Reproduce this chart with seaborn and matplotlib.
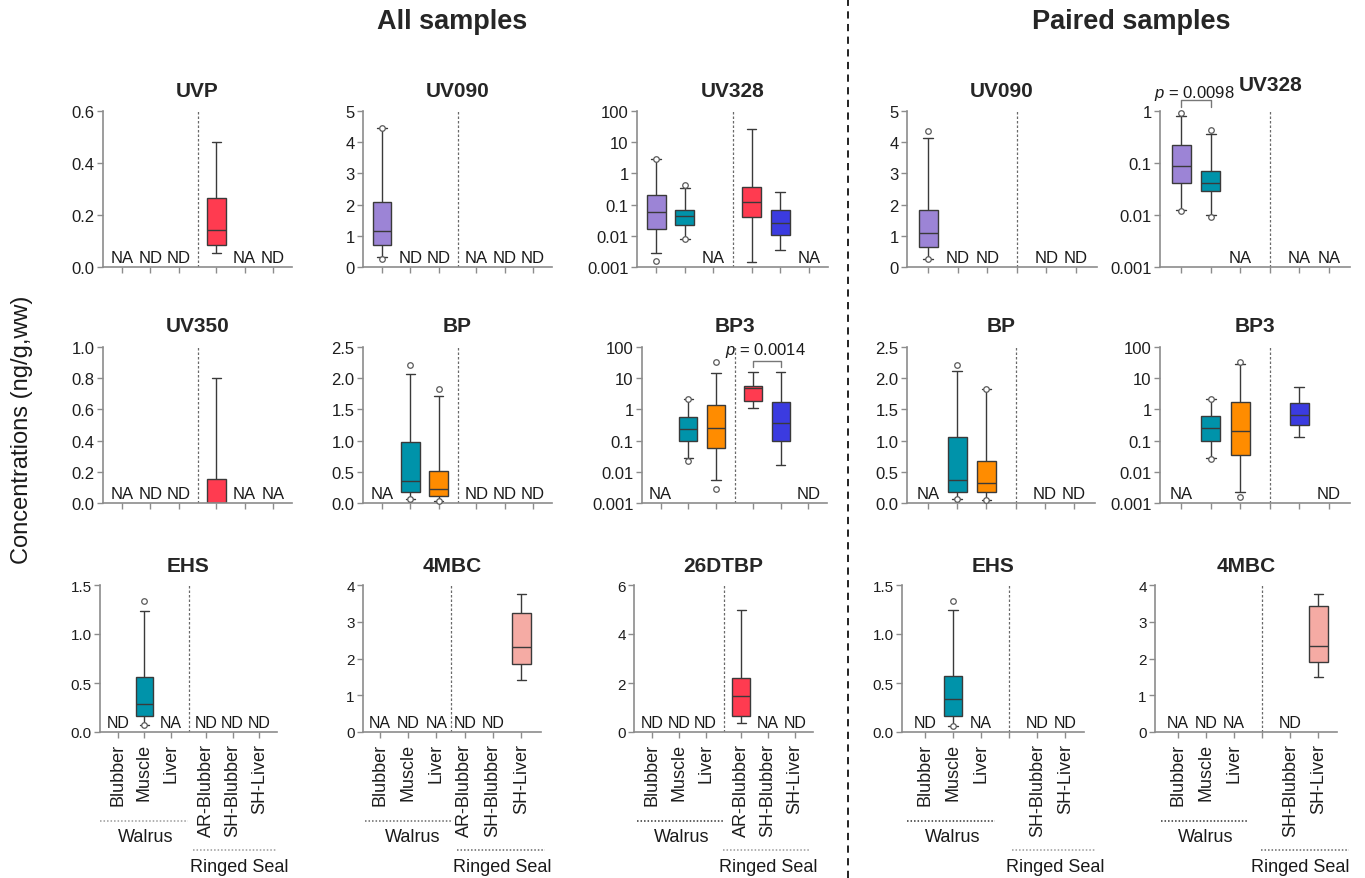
import numpy as np
import pandas as pd
import matplotlib
matplotlib.use("Agg")
import matplotlib.pyplot as plt
import seaborn as sns
from matplotlib.ticker import NullLocator

# ------------------------------------------------------------------ data
# box statistics: [min, q1, median, q3, max]  (whiskers = min..max)
TISSUES = ["Blubber", "Muscle", "Liver", "AR-Blubber", "SH-Blubber", "SH-Liver"]
PAIRED_TISSUES = ["Blubber", "Muscle", "Liver", "", "SH-Blubber", "SH-Liver"]

# --- All samples
UVP_AR_BLUBBER = [0.054, 0.085, 0.142, 0.265, 0.48]
UVP_FLAGS = ["NA", "ND", "ND", "", "NA", "ND"]

UV090_BLUBBER = [0.31, 0.705, 1.14, 2.07, 4.45]
UV090_BLUBBER_OUT = [4.45, 0.27]
UV090_FLAGS = ["", "ND", "ND", "NA", "ND", "ND"]

UV328_BLUBBER = [0.0029, 0.017, 0.059, 0.20, 3.0]
UV328_BLUBBER_OUT = [3.0, 0.00155]
UV328_MUSCLE = [0.0081, 0.022, 0.044, 0.066, 0.35]
UV328_MUSCLE_OUT = [0.42, 0.0079]
UV328_AR_BLUBBER = [0.00145, 0.041, 0.118, 0.37, 26.0]
UV328_SH_BLUBBER = [0.0034, 0.0105, 0.026, 0.069, 0.26]
UV328_FLAGS = ["", "", "NA", "", "", "NA"]

UV350_AR_BLUBBER = [0.0, 0.0, 0.0, 0.155, 0.80]
UV350_FLAGS = ["NA", "ND", "ND", "", "NA", "NA"]

BP_MUSCLE = [0.064, 0.18, 0.36, 0.98, 2.07]
BP_MUSCLE_OUT = [2.21, 0.06]
BP_LIVER = [0.037, 0.117, 0.225, 0.52, 1.71]
BP_LIVER_OUT = [1.82, 0.03]
BP_FLAGS = ["NA", "", "", "ND", "ND", "ND"]

BP3_MUSCLE = [0.028, 0.098, 0.23, 0.59, 2.1]
BP3_MUSCLE_OUT = [2.2, 0.022]
BP3_LIVER = [0.0054, 0.056, 0.26, 1.38, 14.8]
BP3_LIVER_OUT = [33.0, 0.0029]
BP3_AR_BLUBBER = [1.07, 1.8, 4.8, 5.8, 15.6]
BP3_SH_BLUBBER = [0.016, 0.098, 0.38, 1.7, 16.3]
BP3_FLAGS = ["NA", "", "", "", "", "ND"]
BP3_P = "0.0014"

EHS_MUSCLE = [0.075, 0.16, 0.29, 0.56, 1.23]
EHS_MUSCLE_OUT = [1.34, 0.07]
EHS_FLAGS = ["ND", "", "NA", "ND", "ND", "ND"]

MBC_SH_LIVER = [1.42, 1.84, 2.32, 3.25, 3.75]
MBC_FLAGS = ["NA", "ND", "NA", "ND", "ND", ""]

DTBP_AR_BLUBBER = [0.37, 0.65, 1.46, 2.22, 5.0]
DTBP_FLAGS = ["ND", "ND", "ND", "", "NA", "ND"]

# --- Paired samples
P_UV090_BLUBBER = [0.27, 0.65, 1.08, 1.83, 4.12]
P_UV090_BLUBBER_OUT = [4.36, 0.25]
P_UV090_FLAGS = ["", "ND", "ND", "", "ND", "ND"]

P_UV328_BLUBBER = [0.0126, 0.042, 0.087, 0.22, 0.80]
P_UV328_BLUBBER_OUT = [0.93, 0.012]
P_UV328_MUSCLE = [0.0098, 0.0295, 0.041, 0.069, 0.355]
P_UV328_MUSCLE_OUT = [0.43, 0.0093]
P_UV328_FLAGS = ["", "", "NA", "", "NA", "NA"]
P_UV328_P = "0.0098"

P_BP_MUSCLE = [0.064, 0.18, 0.37, 1.05, 2.11]
P_BP_MUSCLE_OUT = [2.21, 0.06]
P_BP_LIVER = [0.053, 0.17, 0.32, 0.68, 1.82]
P_BP_LIVER_OUT = [1.82, 0.05]
P_BP_FLAGS = ["NA", "", "", "", "ND", "ND"]

P_BP3_MUSCLE = [0.028, 0.10, 0.25, 0.62, 2.1]
P_BP3_MUSCLE_OUT = [2.1, 0.025]
P_BP3_LIVER = [0.0022, 0.034, 0.21, 1.7, 29.0]
P_BP3_LIVER_OUT = [33.0, 0.0016]
P_BP3_SH_BLUBBER = [0.135, 0.31, 0.68, 1.56, 5.1]
P_BP3_FLAGS = ["NA", "", "", "", "", "ND"]

P_EHS_MUSCLE = [0.065, 0.166, 0.34, 0.57, 1.24]
P_EHS_MUSCLE_OUT = [1.34, 0.065]
P_EHS_FLAGS = ["ND", "", "NA", "", "ND", "ND"]

P_MBC_SH_LIVER = [1.50, 1.90, 2.35, 3.44, 3.75]
P_MBC_FLAGS = ["NA", "ND", "NA", "", "ND", ""]

LOG_TICKS = [0.001, 0.01, 0.1, 1, 10, 100]
LOG_LABELS = ["0.001", "0.01", "0.1", "1", "10", "100"]

COLORS = {"Blubber": "#9c84d6", "Muscle": "#0093aa", "Liver": "#ff8c00",
          "AR-Blubber": "#ff3b50", "SH-Blubber": "#3b3be0", "SH-Liver": "#f5aba4"}

# ------------------------------------------------------------------ style
sns.set_theme(style="ticks")
plt.rcParams["font.family"] = ["Liberation Sans", "DejaVu Sans"]
plt.rcParams["mathtext.fontset"] = "custom"
plt.rcParams["mathtext.it"] = "Liberation Sans:italic"
plt.rcParams["mathtext.rm"] = "Liberation Sans"

W, H = 1365, 879
fig = plt.figure(figsize=(W / 100, H / 100), dpi=100)

POS_GAP = [0, 1, 2, 3.33, 4.33, 5.33]
POS_UNI = [0, 1, 2, 3, 4, 5]


def add_ax(left, right, top, bottom):
    return fig.add_axes([left / W, 1 - bottom / H, (right - left) / W, (bottom - top) / H])


def panel(ext, title, boxes, outliers, flags, kind="all", log=False, ylim=None,
          yticks=None, ylabels=None, row=1, title_pos=None, groups=None, pval=None):
    ax = add_ax(*ext)
    cats = TISSUES if kind != "paired" else PAIRED_TISSUES
    if kind == "all":
        pos, xlim, div = POS_GAP, (-0.67, 6.0), 2.665
    elif kind == "all_uni":
        pos, xlim, div = POS_UNI, (-0.6, 5.7), 2.5
    else:
        pos, div = POS_UNI, 3.0
        xlim = (-0.72, 5.72) if row < 3 else (-0.82, 5.66)
    posmap = {c: p for c, p in zip(cats, pos) if c}

    rows = []
    for cat, stats in boxes:
        for v in stats:
            rows.append((posmap[cat], cat, v))
    df = pd.DataFrame(rows, columns=["pos", "tissue", "value"])
    sns.boxplot(data=df, x="pos", y="value", hue="tissue", palette=COLORS,
                native_scale=True, dodge=False, width=0.66, whis=np.inf,
                saturation=1, linecolor="#3a3a3a", linewidth=1.0, legend=False,
                log_scale=(False, True) if log else None, ax=ax)
    for cat, vals in outliers:
        ax.scatter([posmap[cat]] * len(vals), vals, s=16, facecolors="white",
                   edgecolors="#5a5a5a", linewidths=0.9, zorder=6, clip_on=False)

    ax.set_xlim(*xlim)
    ax.set_ylim(*ylim)
    ax.set_yticks(yticks)
    tick_fs = 12 if row < 3 else 11
    ax.set_yticklabels(ylabels, fontsize=tick_fs, color="#1e1e1e")
    ax.yaxis.set_minor_locator(NullLocator())
    ax.set_xticks(pos)
    if row == 3:
        ax.set_xticklabels(cats, rotation=90, fontsize=13, color="#1e1e1e")
    else:
        ax.set_xticklabels([])
    ax.set_xlabel("")
    ax.set_ylabel("")
    for s in ["top", "right"]:
        ax.spines[s].set_visible(False)
    for s in ["left", "bottom"]:
        ax.spines[s].set_color("#8c8c8c")
        ax.spines[s].set_linewidth(1.2)
    ax.tick_params(axis="both", which="major", length=4, width=1.0,
                   color="#8c8c8c", pad=2)
    ax.tick_params(axis="x", pad=4)

    ax.axvline(div, ls=(0, (2, 1.6)), color="#6a6a6a", lw=0.9, zorder=0)

    flag_fs = 12 if row < 3 else 11.5
    trans = ax.get_xaxis_transform()
    for p, f in zip(pos, flags):
        if f:
            ax.text(p, 0.015, f, transform=trans, ha="center", va="bottom",
                    fontsize=flag_fs, color="#1a1a1a")

    tfs = 15
    pad = {1: 10.8, 2: 11.5, 3: 10}[row]
    if title_pos is None:
        ax.set_title(title, fontsize=tfs, fontweight="bold", pad=pad)
    else:
        ax.text(title_pos[0], title_pos[1], title, transform=ax.transAxes,
                ha="center", va="baseline", fontsize=tfs, fontweight="bold")

    if groups is not None:
        (w0, w1, wt, wc), (r0, r1, rt, rc) = groups
        ax.plot([w0, w1], [-0.605, -0.605], transform=trans, clip_on=False,
                ls=(0, (1, 1.3)), color=wc, lw=1.1)
        ax.text(wt, -0.714, "Walrus", transform=trans, ha="center", va="center",
                fontsize=13, color="#1a1a1a")
        ax.plot([r0, r1], [-0.803, -0.803], transform=trans, clip_on=False,
                ls=(0, (1, 1.3)), color=rc, lw=1.1)
        ax.text(rt, -0.918, "Ringed Seal", transform=trans, ha="center",
                va="center", fontsize=13, color="#1a1a1a")

    if pval is not None:
        i0, i1, yb, yt, tx, ty, label, axes_y = pval
        x0, x1 = pos[i0], pos[i1]
        tr = ax.get_xaxis_transform() if axes_y else ax.transData
        ax.plot([x0, x0, x1, x1], [yb, yt, yt, yb], transform=tr, clip_on=False,
                color="#777777", lw=1.0)
        ax.text(tx, ty, "$p$ = " + label, transform=tr, ha="center", va="center",
                fontsize=12, color="#1a1a1a")
    return ax


R1 = (112, 268)
R2 = (348, 504)
R3 = (586, 733)

# ------------------------------------------------------------------ row 1
panel((103, 292) + R1, "UVP", [("AR-Blubber", UVP_AR_BLUBBER)], [], UVP_FLAGS,
      ylim=(0, 0.6), yticks=[0, 0.2, 0.4, 0.6], ylabels=["0.0", "0.2", "0.4", "0.6"])
panel((363, 552) + R1, "UV090", [("Blubber", UV090_BLUBBER)],
      [("Blubber", UV090_BLUBBER_OUT)], UV090_FLAGS,
      ylim=(0, 5), yticks=[0, 1, 2, 3, 4, 5], ylabels=["0", "1", "2", "3", "4", "5"])
panel((637, 828) + R1, "UV328",
      [("Blubber", UV328_BLUBBER), ("Muscle", UV328_MUSCLE),
       ("AR-Blubber", UV328_AR_BLUBBER), ("SH-Blubber", UV328_SH_BLUBBER)],
      [("Blubber", UV328_BLUBBER_OUT), ("Muscle", UV328_MUSCLE_OUT)], UV328_FLAGS,
      log=True, ylim=(0.001, 100), yticks=LOG_TICKS, ylabels=LOG_LABELS)
panel((907, 1097) + R1, "UV090", [("Blubber", P_UV090_BLUBBER)],
      [("Blubber", P_UV090_BLUBBER_OUT)], P_UV090_FLAGS, kind="paired",
      ylim=(0, 5), yticks=[0, 1, 2, 3, 4, 5], ylabels=["0", "1", "2", "3", "4", "5"])
panel((1160, 1350) + R1, "UV328",
      [("Blubber", P_UV328_BLUBBER), ("Muscle", P_UV328_MUSCLE)],
      [("Blubber", P_UV328_BLUBBER_OUT), ("Muscle", P_UV328_MUSCLE_OUT)],
      P_UV328_FLAGS, kind="paired", log=True, ylim=(0.001, 1),
      yticks=LOG_TICKS[:4], ylabels=LOG_LABELS[:4], title_pos=(0.58, 1.135),
      pval=(0, 1, 1.025, 1.072, 0.45, 1.12, P_UV328_P, True))

# ------------------------------------------------------------------ row 2
panel((103, 292) + R2, "UV350", [("AR-Blubber", UV350_AR_BLUBBER)], [], UV350_FLAGS,
      row=2, ylim=(0, 1.0), yticks=[0, 0.2, 0.4, 0.6, 0.8, 1.0],
      ylabels=["0.0", "0.2", "0.4", "0.6", "0.8", "1.0"])
panel((363, 552) + R2, "BP", [("Muscle", BP_MUSCLE), ("Liver", BP_LIVER)],
      [("Muscle", BP_MUSCLE_OUT), ("Liver", BP_LIVER_OUT)], BP_FLAGS, row=2,
      ylim=(0, 2.5), yticks=[0, 0.5, 1.0, 1.5, 2.0, 2.5],
      ylabels=["0.0", "0.5", "1.0", "1.5", "2.0", "2.5"])
panel((642, 827) + R2, "BP3",
      [("Muscle", BP3_MUSCLE), ("Liver", BP3_LIVER),
       ("AR-Blubber", BP3_AR_BLUBBER), ("SH-Blubber", BP3_SH_BLUBBER)],
      [("Muscle", BP3_MUSCLE_OUT), ("Liver", BP3_LIVER_OUT)], BP3_FLAGS, row=2,
      log=True, ylim=(0.001, 100), yticks=LOG_TICKS, ylabels=LOG_LABELS,
      pval=(3, 4, 23, 35, 3.8, 84, BP3_P, False))
panel((907, 1095) + R2, "BP", [("Muscle", P_BP_MUSCLE), ("Liver", P_BP_LIVER)],
      [("Muscle", P_BP_MUSCLE_OUT), ("Liver", P_BP_LIVER_OUT)], P_BP_FLAGS,
      kind="paired", row=2, ylim=(0, 2.5), yticks=[0, 0.5, 1.0, 1.5, 2.0, 2.5],
      ylabels=["0.0", "0.5", "1.0", "1.5", "2.0", "2.5"])
panel((1160, 1350) + R2, "BP3",
      [("Muscle", P_BP3_MUSCLE), ("Liver", P_BP3_LIVER),
       ("SH-Blubber", P_BP3_SH_BLUBBER)],
      [("Muscle", P_BP3_MUSCLE_OUT), ("Liver", P_BP3_LIVER_OUT)], P_BP3_FLAGS,
      kind="paired", row=2, log=True, ylim=(0.001, 100), yticks=LOG_TICKS,
      ylabels=LOG_LABELS)

# ------------------------------------------------------------------ row 3
LIGHT, MID, DARK = "#9a9a9a", "#666666", "#333333"
panel((100, 277) + R3, "EHS", [("Muscle", EHS_MUSCLE)], [("Muscle", EHS_MUSCLE_OUT)],
      EHS_FLAGS, row=3, ylim=(0, 1.5), yticks=[0, 0.5, 1.0, 1.5],
      ylabels=["0.0", "0.5", "1.0", "1.5"],
      groups=((-0.68, 2.64, 1.06, LIGHT), (2.83, 5.96, 4.57, LIGHT)))
panel((363, 541) + R3, "4MBC", [("SH-Liver", MBC_SH_LIVER)], [], MBC_FLAGS,
      kind="all_uni", row=3, ylim=(0, 4), yticks=[0, 1, 2, 3, 4],
      ylabels=["0", "1", "2", "3", "4"],
      groups=((-0.53, 2.55, 1.17, MID), (2.73, 5.85, 4.33, MID)))
panel((634, 813) + R3, "26DTBP", [("AR-Blubber", DTBP_AR_BLUBBER)], [], DTBP_FLAGS,
      row=3, ylim=(0, 6), yticks=[0, 2, 4, 6], ylabels=["0", "2", "4", "6"],
      groups=((-0.55, 2.65, 1.09, DARK), (2.65, 5.85, 4.33, LIGHT)))
panel((902, 1084) + R3, "EHS", [("Muscle", P_EHS_MUSCLE)],
      [("Muscle", P_EHS_MUSCLE_OUT)], P_EHS_FLAGS, kind="paired", row=3,
      ylim=(0, 1.5), yticks=[0, 0.5, 1.0, 1.5], ylabels=["0.0", "0.5", "1.0", "1.5"],
      groups=((-0.65, 2.48, 0.97, DARK), (3.09, 6.08, 4.64, LIGHT)))
panel((1155, 1337) + R3, "4MBC", [("SH-Liver", P_MBC_SH_LIVER)], [], P_MBC_FLAGS,
      kind="paired", row=3, ylim=(0, 4), yticks=[0, 1, 2, 3, 4],
      ylabels=["0", "1", "2", "3", "4"],
      groups=((-0.6, 2.48, 0.99, DARK), (2.94, 6.1, 4.36, MID)))

# ------------------------------------------------------------------ figure text
fig.text(452 / W, 1 - 22 / H, "All samples", ha="center", va="center",
         fontsize=19.5, fontweight="bold")
fig.text(1131 / W, 1 - 22 / H, "Paired samples", ha="center", va="center",
         fontsize=19.5, fontweight="bold")
fig.text(22 / W, 1 - 430 / H, "Concentrations (ng/g,ww)", rotation=90,
         ha="center", va="center", fontsize=17, color="#1a1a1a")
fig.add_artist(plt.Line2D([848 / W, 848 / W], [0, 1], transform=fig.transFigure,
                          color="#111111", lw=1.3, ls=(0, (4, 3))))

fig.savefig("out.png", dpi=100)
